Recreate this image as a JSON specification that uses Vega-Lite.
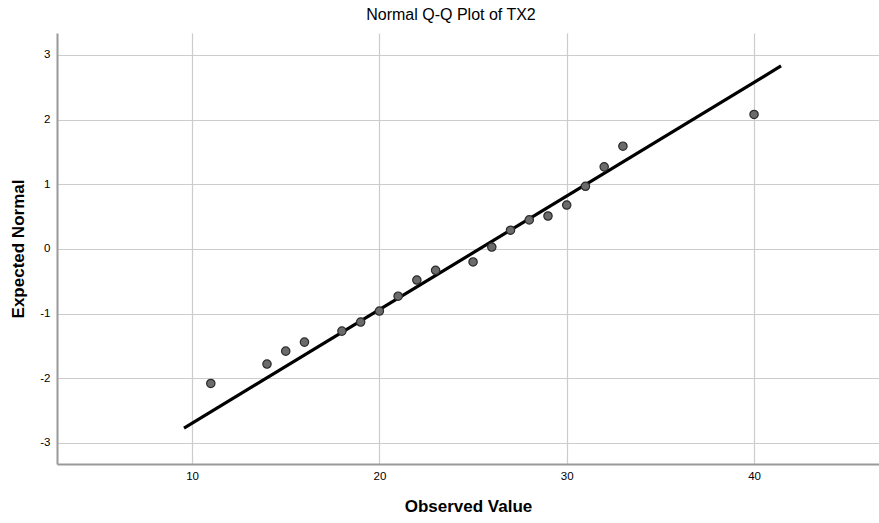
{
  "$schema": "https://vega.github.io/schema/vega-lite/v6.json",
  "autosize": "none",
  "width": 822,
  "height": 431,
  "padding": {"left": 57, "top": 33, "right": 0, "bottom": 59},
  "background": "white",
  "title": {"text": "Normal Q-Q Plot of TX2", "font": "Liberation Sans", "fontSize": 16, "fontWeight": "normal", "color": "#000000", "offset": 10, "dx": -17},
  "config": {
    "view": {"stroke": null},
    "axis": {"labelFont": "Liberation Sans", "labelFontSize": 11.5, "labelColor": "#000000", "titleFont": "Liberation Sans", "titleFontSize": 17, "titleFontWeight": "bold", "titleColor": "#000000", "gridColor": "#cccccc", "gridWidth": 1.2, "domainColor": "#999999", "domainWidth": 2, "ticks": false}
  },
  "datasets": {
    "points": [
      {"observed": 11, "expected": -2.08},
      {"observed": 14, "expected": -1.78},
      {"observed": 15, "expected": -1.58},
      {"observed": 16, "expected": -1.44},
      {"observed": 18, "expected": -1.27},
      {"observed": 19, "expected": -1.13},
      {"observed": 20, "expected": -0.96},
      {"observed": 21, "expected": -0.73},
      {"observed": 22, "expected": -0.48},
      {"observed": 23, "expected": -0.33},
      {"observed": 25, "expected": -0.2},
      {"observed": 26, "expected": 0.03},
      {"observed": 27, "expected": 0.29},
      {"observed": 28, "expected": 0.45},
      {"observed": 29, "expected": 0.51},
      {"observed": 30, "expected": 0.68},
      {"observed": 31, "expected": 0.97},
      {"observed": 32, "expected": 1.27},
      {"observed": 33, "expected": 1.59},
      {"observed": 40, "expected": 2.08}
    ],
    "fit": [
      {"observed": 9.57, "expected": -2.77},
      {"observed": 41.44, "expected": 2.83}
    ]
  },
  "layer": [
    {
      "data": {"name": "fit"},
      "mark": {"type": "line", "color": "#000000", "strokeWidth": 3.2},
      "encoding": {
        "x": {"field": "observed", "type": "quantitative", "scale": {"domain": [2.79, 46.67], "nice": false, "zero": false}, "axis": {"values": [10, 20, 30, 40], "format": "d", "title": "Observed Value", "titlePadding": 17, "labelPadding": 6}},
        "y": {"field": "expected", "type": "quantitative", "scale": {"domain": [-3.325, 3.34], "nice": false, "zero": false}, "axis": {"values": [-3, -2, -1, 0, 1, 2, 3], "labelExpr": "datum.value < 0 ? '-' + abs(datum.value) : '' + datum.value", "title": "Expected Normal", "titlePadding": 12, "labelPadding": 7}}
      }
    },
    {
      "data": {"name": "points"},
      "mark": {"type": "point", "filled": true, "fill": "#6b6b6b", "stroke": "#2a2a2a", "strokeWidth": 1.2, "size": 70, "opacity": 1},
      "encoding": {
        "x": {"field": "observed", "type": "quantitative"},
        "y": {"field": "expected", "type": "quantitative"}
      }
    }
  ]
}
